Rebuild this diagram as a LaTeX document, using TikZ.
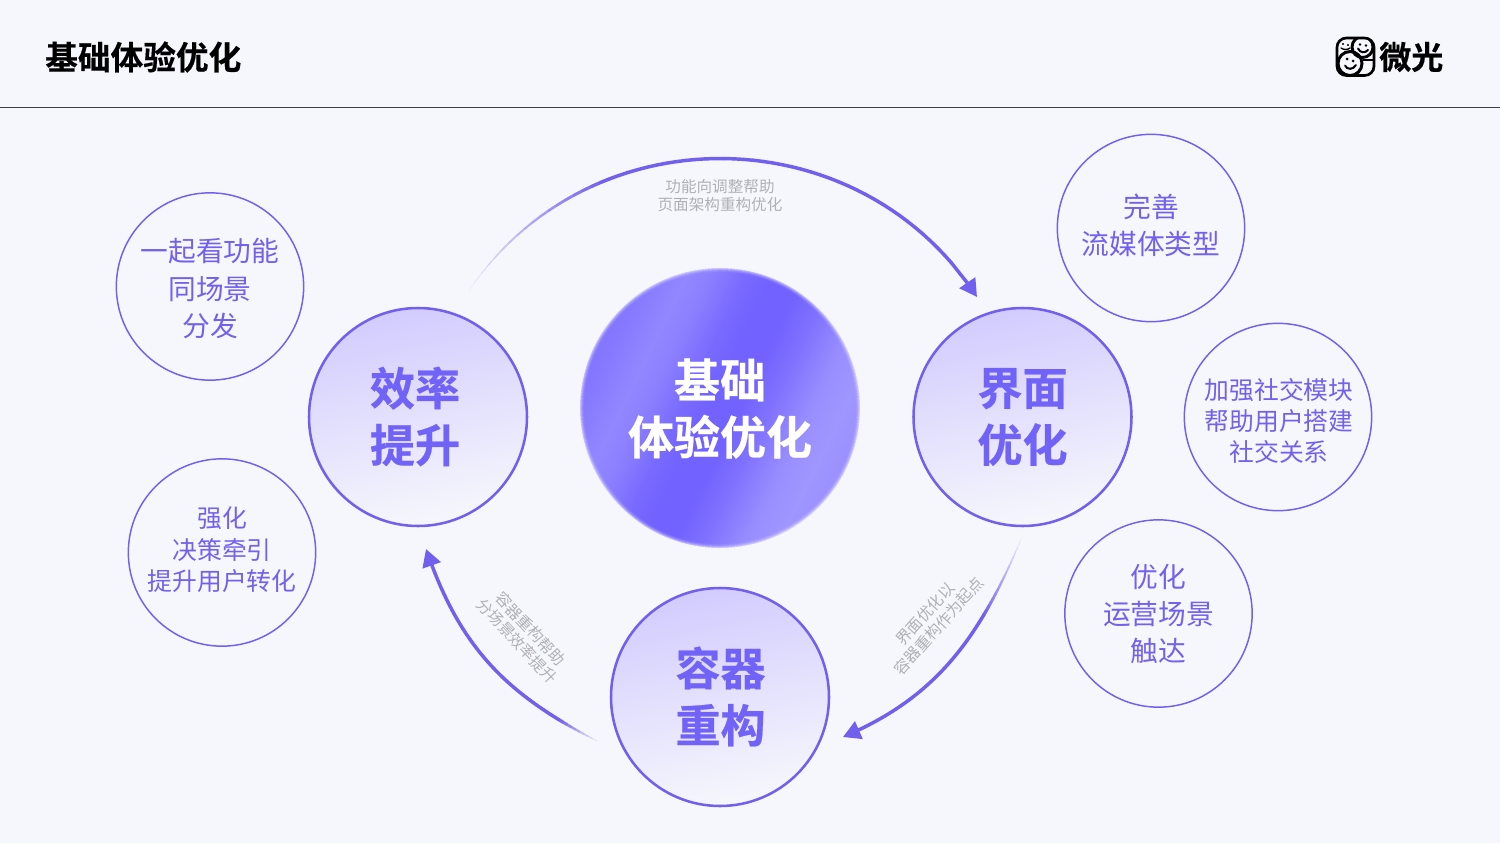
\documentclass[tikz,border=0pt]{standalone}
\usepackage{fontspec}
\setmainfont{Noto Sans CJK SC}
\newfontfamily\cjkbold{Noto Sans CJK SC Bold}
\newfontfamily\cjkheavy[FakeBold=0.5]{Noto Sans CJK SC Bold}
\usetikzlibrary{arrows.meta,calc}
\definecolor{bgc}{HTML}{F6F7FC}
\definecolor{vio}{HTML}{7160EE}
\definecolor{vioL}{HTML}{D2CCFE}
\definecolor{txtv}{HTML}{7360EC}
\definecolor{txtb}{HTML}{7263F8}
\definecolor{grayt}{HTML}{B0B0B6}
\definecolor{sLt}{HTML}{9287FF}
\definecolor{sLb}{HTML}{A096FF}
\definecolor{sS}{HTML}{7262FF}
\definecolor{sM}{HTML}{8274FF}
\pgfdeclarehorizontalshading{sphereG}{100bp}{color(0bp)=(sM); color(25bp)=(sM); color(29bp)=(sM!60!sLt); color(34bp)=(sLt); color(38bp)=(sLt!80!sS); color(44bp)=(sS!80!sLt); color(48bp)=(sS); color(53bp)=(sS); color(58bp)=(sS!70!sLb); color(65bp)=(sLb!85!sS); color(70bp)=(sLb); color(75bp)=(sLb!80!sM); color(100bp)=(sM)}
\tikzset{
 every node/.style={align=center,inner sep=0pt},
 smallc/.style={circle,draw=vio,line width=1.1pt,minimum size=140.5pt},
 smallA/.style={text=txtv,font=\fontsize{20.8}{28}\selectfont},
 smallB/.style={text=txtv,font=\fontsize{18.6}{23.6}\selectfont},
 mid/.style={circle,draw=vio,line width=1.9pt,minimum size=163.5pt,top color=vioL,bottom color=bgc,shading angle=12},
 midt/.style={text=txtb,font=\cjkheavy\fontsize{33.8}{42.7}\selectfont},
 note/.style={text=grayt,font=\fontsize{11.7}{13.6}\selectfont},
 sphere/.style={circle,minimum size=210pt,shading=sphereG,shading angle=-26},
}
\newcommand\fadecurve[5]{%
  \foreach \i in {1,...,56}{%
    \pgfmathsetmacro\ta{(\i-1)/60}%
    \pgfmathsetmacro\tb{\i/60}%
    \pgfmathsetmacro\ff{min(1,\tb/#5)}%
    \pgfmathsetmacro\pct{100*\ff}%
    \pgfmathsetmacro\lw{0.6+2.0*\ff}%
    \path (#1) .. controls (#2) and (#3) .. (#4) coordinate[pos=\ta] (pa) coordinate[pos=\tb] (pb);
    \draw[color=vio!\pct!bgc,line width=\lw pt,line cap=round] (pa) -- (pb);
  }%
  \path (#1) .. controls (#2) and (#3) .. (#4) coordinate[pos=0.9333] (pa) coordinate[pos=0.975] (pb);
  \draw[color=vio,line width=2.6pt,-{Triangle[length=13pt,width=14pt]}] (pa) -- (pb) -- (#4);
}
\begin{document}
\begin{tikzpicture}[x=0.75pt,y=-0.75pt]
\useasboundingbox (0,0) rectangle (1500,843);
\fill[bgc] (0,0) rectangle (1500,843);
\coordinate (ruleL) at (0,107.5);
\coordinate (ruleR) at (1500,107.5);
\draw[line width=0.8pt,black!75] (ruleL) -- (ruleR);
\node[anchor=west,font=\cjkheavy\fontsize{24.5}{28}\selectfont] (title) at (45,57) {基础体验优化};
\node[anchor=west,font=\cjkheavy\fontsize{24}{28}\selectfont] (brand) at (1379,57) {微光};
% logo
\begin{scope}
\clip[rounded corners=7pt] (1337,38) rectangle (1374,75.5);
\fill[bgc] (1337,38) rectangle (1374,75.5);
\draw[line width=2.2pt] (1350,63.5) circle (12);
\draw[line width=2.2pt] (1362.5,47) circle (10.5);
\draw[line width=1.8pt] (1363,60) -- (1374,60);
\end{scope}
\draw[line width=2pt,rounded corners=7pt] (1337,38) rectangle (1374,75.5);
\fill (1347,59) circle (1.5) (1353,61) circle (1.5);
\draw[line width=1.5pt,line cap=round] (1345,65.5) .. controls (1347,70) and (1353,70) .. (1356,65);
\fill (1360,44.5) circle (1.4) (1366,45.5) circle (1.4);
\draw[line width=1.5pt,line cap=round] (1358,48.5) .. controls (1360,53) and (1365,53.5) .. (1368,50);
\fill (1343,44) circle (1.1) (1348,45) circle (1.1);
\draw[line width=1pt,line cap=round] (1341,48) .. controls (1344,50) and (1347,50) .. (1350,48);
% sphere
\node[sphere] (core) at (720,408) {};
\foreach \r/\o in {140.6/0.8,139.6/0.55,138.6/0.32,137.6/0.16,136.6/0.06}
  \draw[bgc,line width=0.85pt,opacity=\o] (core.center) circle (\r);
\node[text=white,font=\cjkheavy\fontsize{34.5}{42.7}\selectfont] (coret) at (720,408.5) {基础\\体验优化};
% mid circles
\node[mid] (eff) at (418,417) {};
\node[midt] (efft) at (415,416.5) {效率\\提升};
\node[mid] (ui) at (1022.5,417) {};
\node[midt] (uit) at (1022.5,417) {界面\\优化};
\node[mid] (con) at (720,697) {};
\node[midt] (cont) at (720.5,696.5) {容器\\重构};
% small circles
\node[smallc] (a1) at (210,286.5) {};
\node[smallA] (a1t) at (210,288.5) {一起看功能\\同场景\\分发};
\node[smallc] (a2) at (222,552.5) {};
\node[smallB] (a2t) at (222,550) {强化\\决策牵引\\提升用户转化};
\node[smallc] (b1) at (1151,228) {};
\node[smallA] (b1t) at (1151,225) {完善\\流媒体类型};
\node[smallc] (b2) at (1278,417) {};
\node[smallB] (b2t) at (1279,421) {加强社交模块\\帮助用户搭建\\社交关系};
\node[smallc] (b3) at (1158.5,613.5) {};
\node[smallA] (b3t) at (1158.5,614) {优化\\运营场景\\触达};
% arcs
\coordinate (t0) at (468.8,291); \coordinate (t1) at (589.9,111.4);
\coordinate (t2) at (859.7,115.4); \coordinate (t3) at (977,297);
\fadecurve{t0}{t1}{t2}{t3}{0.3}
\coordinate (r0) at (1022,537); \coordinate (r1) at (979,640);
\coordinate (r2) at (935,698); \coordinate (r3) at (843,737);
\fadecurve{r0}{r1}{r2}{r3}{0.3}
\coordinate (l0) at (597,741); \coordinate (l1) at (506,694);
\coordinate (l2) at (460,648); \coordinate (l3) at (426,549);
\fadecurve{l0}{l1}{l2}{l3}{0.16}
% notes
\node[note] (n1) at (720,195.5) {功能向调整帮助\\页面架构重构优化};
\node[note,rotate=48] (n2) at (932,620) {界面优化以\\容器重构作为起点};
\node[note,rotate=-47] (n3) at (524,635) {容器重构帮助\\分场景效率提升};
\end{tikzpicture}
\end{document}
